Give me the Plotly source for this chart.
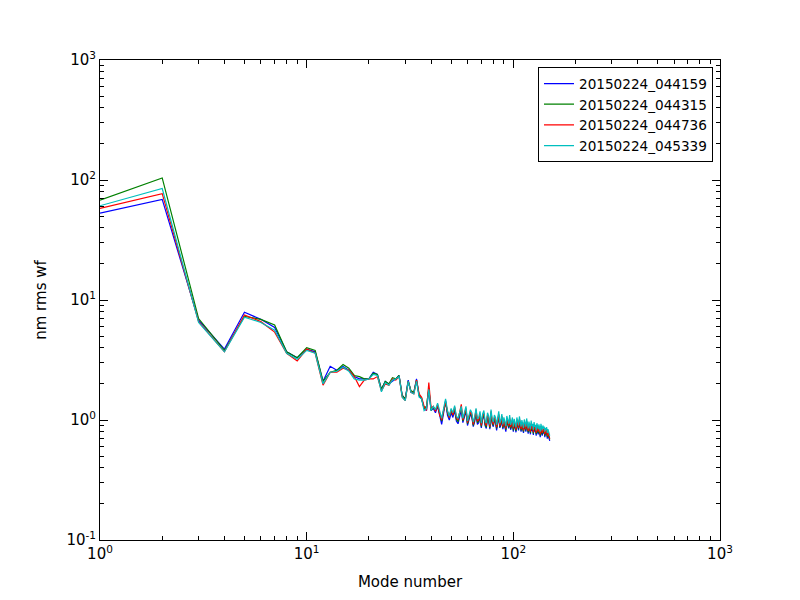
import plotly.graph_objects as go

modes = list(range(1, 151))
names = ["20150224_044159", "20150224_044315", "20150224_044736", "20150224_045339"]
colors = ["#0000ff", "#008000", "#ff0000", "#00bfbf"]

blue = [53, 69, 6.8, 3.9, 7.9, 6.9, 5.9, 3.7, 3.3, 3.9, 3.7, 2.1, 2.8, 2.6, 2.8, 2.6, 2.3, 2.2, 2.2, 2.2,
        2.5, 2.4, 1.8, 2.1, 2.0, 2.1, 2.2, 2.35, 1.6, 1.5, 2.15, 1.7, 1.7, 2.2, 1.6, 1.5, 1.25, 1.2, 1.8, 1.2,
        1.25, 1.15, 1.3, 1.1, 0.92, 1.15, 1.45, 1.1, 1.0, 1.15,
        1.05, 1.2, 0.98, 0.93, 1.1, 1.22, 0.95, 1.05, 1.18, 0.9,
        1.0, 1.12, 1.05, 0.88, 0.97, 1.15, 0.92, 0.95, 1.08, 0.86,
        1.02, 1.1, 0.9, 0.85, 1.05, 0.98, 0.84, 1.12, 0.93, 0.88,
        1.0, 0.95, 0.82, 0.97, 1.08, 0.86, 0.9, 1.02, 0.84, 0.95,
        0.88, 0.8, 0.98, 0.9, 0.85, 1.0, 0.83, 0.88, 0.95, 0.8,
        0.92, 0.86, 0.79, 0.95, 0.88, 0.82, 0.97, 0.85, 0.8, 0.9,
        0.83, 0.78, 0.92, 0.86, 0.8, 0.94, 0.82, 0.77, 0.88, 0.84,
        0.76, 0.9, 0.81, 0.85, 0.75, 0.87, 0.8, 0.83, 0.74, 0.86,
        0.79, 0.76, 0.84, 0.8, 0.72, 0.85, 0.78, 0.74, 0.82, 0.77,
        0.8, 0.72, 0.78, 0.75, 0.79, 0.7, 0.76, 0.73, 0.72, 0.67]

green = [68, 104, 7.0, 3.8, 7.3, 6.9, 6.2, 3.7, 3.3, 4.0, 3.8, 2.1, 2.5, 2.6, 2.9, 2.7, 2.35, 2.3, 2.2, 2.2,
         2.45, 2.4, 1.8, 2.1, 2.0, 2.25, 2.2, 2.35, 1.6, 1.5, 2.1, 1.75, 1.7, 2.15, 1.6, 1.5, 1.25, 1.3, 1.85, 1.2,
         1.28, 1.2, 1.32, 1.12, 0.98, 1.2, 1.4, 1.15, 1.05, 1.2,
         1.1, 1.25, 1.02, 0.97, 1.15, 1.25, 0.98, 1.1, 1.22, 0.93,
         1.03, 1.15, 1.08, 0.9, 1.0, 1.18, 0.95, 0.98, 1.1, 0.88,
         1.05, 1.12, 0.92, 0.87, 1.08, 1.0, 0.86, 1.15, 0.95, 0.9,
         1.03, 0.98, 0.85, 1.0, 1.1, 0.88, 0.93, 1.05, 0.86, 0.97,
         0.9, 0.83, 1.0, 0.93, 0.87, 1.02, 0.85, 0.9, 0.97, 0.82,
         0.95, 0.88, 0.81, 0.97, 0.9, 0.84, 1.0, 0.87, 0.82, 0.92,
         0.85, 0.8, 0.94, 0.88, 0.82, 0.96, 0.84, 0.79, 0.9, 0.86,
         0.78, 0.92, 0.83, 0.87, 0.77, 0.89, 0.82, 0.85, 0.76, 0.88,
         0.81, 0.78, 0.86, 0.82, 0.74, 0.87, 0.8, 0.76, 0.84, 0.79,
         0.82, 0.74, 0.8, 0.77, 0.81, 0.72, 0.78, 0.75, 0.74, 0.69]

red = [58, 77, 6.6, 3.7, 7.5, 6.6, 5.4, 3.6, 3.1, 3.9, 3.6, 1.95, 2.5, 2.5, 2.7, 2.6, 2.3, 1.9, 2.15, 2.2,
       2.2, 2.3, 1.75, 2.0, 1.95, 2.2, 2.15, 2.3, 1.55, 1.45, 2.1, 1.7, 1.65, 2.15, 1.65, 1.55, 1.3, 1.2, 2.05, 1.25,
       1.3, 1.18, 1.35, 1.1, 1.0, 1.2, 1.42, 1.18, 1.05, 1.22,
       1.1, 1.28, 1.05, 1.0, 1.15, 1.35, 1.0, 1.1, 1.25, 0.95,
       1.05, 1.18, 1.1, 0.92, 1.02, 1.22, 0.98, 1.0, 1.12, 0.9,
       1.08, 1.15, 0.95, 0.9, 1.1, 1.03, 0.88, 1.18, 0.98, 0.92,
       1.05, 1.0, 0.87, 1.02, 1.12, 0.9, 0.95, 1.08, 0.88, 1.0,
       0.93, 0.85, 1.03, 0.95, 0.9, 1.05, 0.87, 0.93, 1.0, 0.85,
       0.97, 0.9, 0.83, 1.0, 0.92, 0.86, 1.02, 0.9, 0.84, 0.95,
       0.88, 0.82, 0.96, 0.9, 0.84, 0.98, 0.86, 0.81, 0.92, 0.88,
       0.8, 0.94, 0.85, 0.89, 0.79, 0.91, 0.84, 0.87, 0.78, 0.9,
       0.83, 0.8, 0.88, 0.84, 0.76, 0.89, 0.82, 0.78, 0.86, 0.81,
       0.84, 0.76, 0.82, 0.79, 0.83, 0.74, 0.8, 0.77, 0.75, 0.7]

cyan = [61, 85, 6.5, 3.7, 7.2, 6.5, 5.6, 3.6, 3.2, 3.8, 3.6, 2.0, 2.5, 2.55, 2.75, 2.55, 2.2, 2.15, 2.15, 2.2,
        2.4, 2.35, 1.72, 2.05, 1.95, 2.15, 2.2, 2.3, 1.55, 1.45, 2.1, 1.7, 1.65, 2.1, 1.55, 1.5, 1.2, 1.25, 1.8, 1.2,
        1.3, 1.22, 1.38, 1.15, 1.03, 1.25, 1.5, 1.2, 1.08, 1.25,
        1.15, 1.32, 1.08, 1.03, 1.2, 1.3, 1.03, 1.15, 1.3, 0.98,
        1.08, 1.22, 1.15, 0.96, 1.06, 1.25, 1.02, 1.05, 1.18, 0.94,
        1.12, 1.2, 0.98, 0.94, 1.15, 1.08, 0.92, 1.22, 1.02, 0.96,
        1.1, 1.05, 0.91, 1.07, 1.18, 0.94, 1.0, 1.12, 0.92, 1.05,
        0.97, 0.89, 1.08, 1.0, 0.93, 1.1, 0.91, 0.97, 1.05, 0.88,
        1.02, 0.94, 0.87, 1.05, 0.96, 0.9, 1.07, 0.94, 0.88, 1.0,
        0.92, 0.86, 1.01, 0.94, 0.88, 1.03, 0.9, 0.85, 0.97, 0.92,
        0.84, 0.99, 0.89, 0.93, 0.83, 0.96, 0.88, 0.91, 0.82, 0.94,
        0.87, 0.84, 0.92, 0.88, 0.8, 0.93, 0.86, 0.82, 0.9, 0.85,
        0.88, 0.8, 0.86, 0.83, 0.87, 0.78, 0.84, 0.81, 0.78, 0.74]

series = [blue, green, red, cyan]

x_tickvals = [1, 10, 100, 1000]
x_ticktext = ["10<sup>0</sup>", "10<sup>1</sup>", "10<sup>2</sup>", "10<sup>3</sup>"]
y_tickvals = [0.1, 1, 10, 100, 1000]
y_ticktext = ["10<sup>-1</sup>", "10<sup>0</sup>", "10<sup>1</sup>", "10<sup>2</sup>", "10<sup>3</sup>"]
x_minor = [m * d for d in (1, 10, 100) for m in range(2, 10)]
y_minor = [m * d for d in (0.1, 1, 10, 100) for m in range(2, 10)]

fig = go.Figure()
for name, col, vals in zip(names, colors, series):
    fig.add_trace(go.Scatter(x=modes, y=vals, mode="lines", name=name,
                             line=dict(color=col, width=1.2)))

def axis_common(minor_vals):
    return dict(
        type="log", showgrid=False, zeroline=False, automargin=False,
        showline=True, linecolor="black", linewidth=1, mirror="ticks",
        ticks="inside", ticklen=8, tickwidth=1, tickcolor="black",
        minor=dict(ticks="inside", ticklen=4, tickwidth=1, tickcolor="black",
                   showgrid=False, tickvals=minor_vals),
        tickfont=dict(family="DejaVu Sans", size=15, color="black"),
    )

fig.update_xaxes(range=[0, 3], tickvals=x_tickvals, ticktext=x_ticktext,
                 title=dict(text="Mode number", font=dict(family="DejaVu Sans", size=15, color="black"), standoff=14),
                 **axis_common(x_minor))
fig.update_yaxes(range=[-1, 3], tickvals=y_tickvals, ticktext=y_ticktext,
                 title=dict(text="nm rms wf", font=dict(family="DejaVu Sans", size=15, color="black"), standoff=16),
                 **axis_common(y_minor))

fig.update_layout(
    width=792, height=592,
    margin=dict(l=92, r=80, t=52, b=60),
    paper_bgcolor="white", plot_bgcolor="white",
    font=dict(family="DejaVu Sans", color="black"),
    legend=dict(x=0.9887, y=0.985, xanchor="right", yanchor="top",
                bgcolor="white", bordercolor="black", borderwidth=1,
                font=dict(family="DejaVu Sans", size=13.6, color="black"),
                tracegroupgap=0),
    showlegend=True,
)

fig.write_html("out.html")
